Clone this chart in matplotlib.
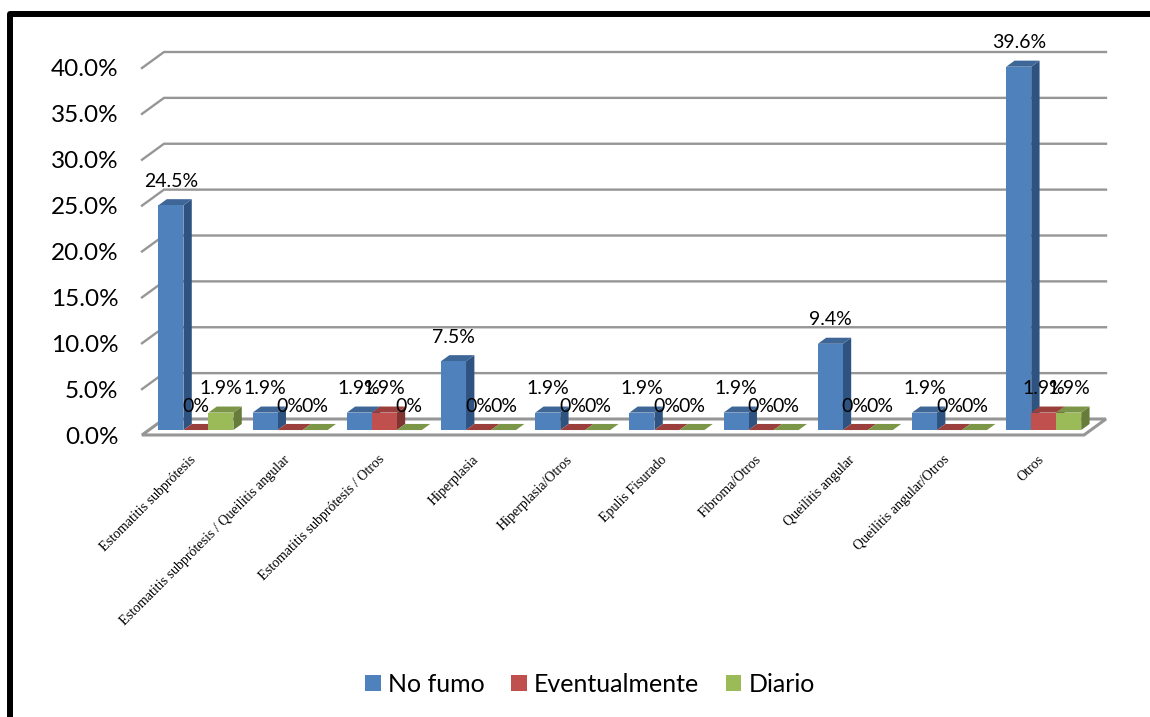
import matplotlib
matplotlib.use('Agg')
import matplotlib.pyplot as plt
from matplotlib.lines import Line2D

categories = ['Estomatitis subprótesis', 'Estomatitis subprótesis / Queilitis angular',
              'Estomatitis subprótesis / Otros', 'Hiperplasia', 'Hiperplasia/Otros',
              'Epulis Fisurado', 'Fibroma/Otros', 'Queilitis angular',
              'Queilitis angular/Otros', 'Otros']
no_fumo = [24.5, 1.9, 1.9, 7.5, 1.9, 1.9, 1.9, 9.4, 1.9, 39.6]
eventualmente = [0, 0, 1.9, 0, 0, 0, 0, 0, 0, 1.9]
diario = [1.9, 0, 0, 0, 0, 0, 0, 0, 0, 1.9]
y_ticks = [0, 5, 10, 15, 20, 25, 30, 35, 40]

W, H = 1150, 717
fig = plt.figure(figsize=(W / 100, H / 100), dpi=100)
ax = fig.add_axes([142 / W, (H - 435) / H, 942 / W, 367 / H])
ax.set_xlim(0, 10)
ax.set_ylim(0, 40)

# pixels to data units, used for the fake 3d depth
px_x = 10 / 942
px_y = 40 / 367
wall_dx = 22 * px_x
wall_dy = 16 * px_y
bar_w = 25 * px_x
near, far = 0.31, 0.69  # where the bars sit in the depth of the floor

grid = '#969696'
for t in y_ticks[1:]:
    ax.plot([0, wall_dx, 10 + wall_dx], [t, t + wall_dy, t + wall_dy], color=grid, lw=1.7,
            clip_on=False, zorder=1, solid_joinstyle='miter')
# floor
ax.fill([0, wall_dx, 10 + wall_dx, 10], [0, wall_dy, wall_dy, 0], facecolor='white',
        edgecolor=grid, lw=2.2, clip_on=False, zorder=1)

series = [('No fumo', no_fumo, '#4F81BD', '#3E6798', '#2F5380'),
          ('Eventualmente', eventualmente, '#C0504D', '#9B3F3D', '#7F3432'),
          ('Diario', diario, '#9BBB59', '#7C9647', '#677C3B')]

handles = []
z = 3
for s, (name, vals, front, top, side) in enumerate(series):
    for i, v in enumerate(vals):
        x0 = i + 0.5 + near * wall_dx + (s - 1.5) * bar_w
        x1 = x0 + bar_w
        y0 = near * wall_dy
        y1 = y0 + v
        d = (far - near)
        ddx, ddy = d * wall_dx, d * wall_dy
        ax.fill([x1, x1 + ddx, x1 + ddx, x1], [y0, y0 + ddy, y1 + ddy, y1], color=side, lw=0,
                clip_on=False, zorder=z)
        ax.fill([x0, x0 + ddx, x1 + ddx, x1], [y1, y1 + ddy, y1 + ddy, y1], color=top, lw=0,
                clip_on=False, zorder=z)
        b = ax.bar(x0, v, width=bar_w, bottom=y0, align='edge', color=front, lw=0,
                   clip_on=False, zorder=z, label=name if i == 0 else None)
        if i == 0:
            handles.append(b)
        z += 1

# data labels on top of everything
for s, (name, vals, front, top, side) in enumerate(series):
    for i, v in enumerate(vals):
        x = i + 0.5 + near * wall_dx + (s - 1) * bar_w
        txt = '0%' if v == 0 else '%.1f%%' % v
        ax.annotate(txt, xy=(x, near * wall_dy + v), xytext=(0, 17.3), textcoords='offset points',
                    ha='center', va='center', fontsize=14, family='Lato', color='black',
                    annotation_clip=False, zorder=100)

ax.set_yticks(y_ticks, ['%.1f%%' % t for t in y_ticks], family='Lato', fontsize=17.5)
ax.set_xticks([i + 0.5 for i in range(10)], categories, rotation=45, ha='right', va='top',
              rotation_mode='anchor', family='Liberation Serif', fontsize=10.1)
ax.tick_params(axis='y', length=0, pad=17)
ax.tick_params(axis='x', length=0, pad=13)
for sp in ax.spines.values():
    sp.set_visible(False)
ax.patch.set_visible(False)

fig.legend(handles=handles, labels=[x[0] for x in series], loc='center',
           bbox_to_anchor=(590 / W, (H - 684) / H), ncol=3, frameon=False,
           prop={'family': 'Lato', 'size': 18}, handlelength=0.62, handleheight=0.62,
           handletextpad=0.3, columnspacing=1.05)

# black frame of the pasted picture
fig.add_artist(Line2D([9.5 / W, 9.5 / W, 1], [0, (H - 14) / H, (H - 14) / H], color='black',
                      lw=4.3, solid_joinstyle='round'))

fig.savefig('out.png', dpi=100)
